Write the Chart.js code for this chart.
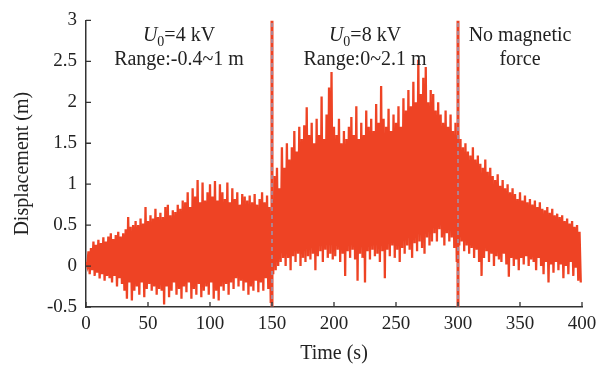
<!DOCTYPE html>
<html>
<head>
<meta charset="utf-8">
<script src="https://cdn.jsdelivr.net/npm/chart.js@4.4.1/dist/chart.umd.min.js"></script>
<style>
  html, body { margin: 0; padding: 0; background: #fff; }
</style>
</head>
<body>
<canvas id="dispChart" width="610" height="370"></canvas>
<script>
// ===== DATA =====

// local maxima, one every 2 s starting at t = 0
const peaks = [
  0.05, 0.18, 0.22, 0.30, 0.26, 0.32, 0.28, 0.35, 0.30, 0.36,
  0.40, 0.33, 0.38, 0.42, 0.36, 0.40, 0.45, 0.60, 0.48, 0.50,
  0.55, 0.50, 0.58, 0.52, 0.72, 0.55, 0.62, 0.58, 0.70, 0.60,
  0.65, 0.60, 0.72, 0.75, 0.62, 0.68, 0.66, 0.75, 0.70, 0.80,
  0.78, 0.90, 0.72, 0.95, 0.85, 1.05, 0.78, 1.02, 0.80, 0.90,
  1.00, 0.85, 1.04, 0.80, 1.00, 0.90, 0.82, 1.02, 0.78, 0.95,
  0.82, 0.90, 0.75, 0.88, 0.85, 0.80, 0.86, 0.78, 0.88, 0.75,
  0.82, 0.90, 0.78, 0.86, 0.72, 0.70, 1.10, 1.20, 0.95, 1.45,
  1.20, 1.50, 1.30, 1.45, 1.65, 1.40, 1.70, 1.55, 1.72, 1.94,
  1.60, 1.75, 1.50, 1.80, 1.60, 2.07, 1.55, 1.85, 2.18, 2.37,
  1.70, 1.60, 1.80, 1.50, 1.65, 1.55, 1.70, 1.82, 1.60, 1.95,
  1.55, 1.75, 1.60, 1.90, 1.70, 1.80, 1.65, 1.98, 1.75, 2.20,
  1.80, 1.70, 1.92, 1.65, 1.85, 1.75, 1.95, 1.70, 2.05, 1.90,
  2.15, 1.95, 2.25, 2.00, 2.52, 2.10, 2.30, 2.43, 2.00, 2.15,
  2.10, 1.90, 2.00, 1.85, 1.75, 1.90, 1.70, 1.85, 1.65, 1.75,
  1.60, 1.55, 1.45, 1.50, 1.40, 1.35, 1.45, 1.30, 1.35, 1.25,
  1.20, 1.30, 1.15, 1.20, 1.10, 1.05, 1.12, 0.98, 1.05, 0.95,
  1.00, 0.90, 0.95, 0.88, 0.82, 0.90, 0.80, 0.86, 0.78, 0.82,
  0.75, 0.80, 0.72, 0.78, 0.70, 0.68, 0.72, 0.65, 0.70, 0.62,
  0.64, 0.60, 0.62, 0.55, 0.58, 0.52, 0.55, 0.48, 0.50, 0.42
];

// local minima, one every 2 s starting at t = 1
const troughs = [
   0.00, -0.10, -0.05, -0.12, -0.08, -0.15, -0.10, -0.18, -0.12, -0.15,
  -0.20, -0.12, -0.25, -0.15, -0.22, -0.30, -0.40, -0.20, -0.42, -0.30,
  -0.25, -0.35, -0.20, -0.38, -0.28, -0.22, -0.30, -0.25, -0.35, -0.28,
  -0.30, -0.47, -0.25, -0.38, -0.30, -0.20, -0.35, -0.28, -0.40, -0.25,
  -0.32, -0.20, -0.40, -0.28, -0.35, -0.22, -0.38, -0.30, -0.25, -0.35,
  -0.20, -0.40, -0.30, -0.42, -0.25, -0.30, -0.22, -0.35, -0.20, -0.28,
  -0.15, -0.25, -0.18, -0.30, -0.20, -0.35, -0.25, -0.30, -0.18, -0.32,
  -0.20, -0.30, -0.15, -0.28, -0.45, -0.10, -0.05,  0.00,  0.05,  0.10,
   0.00,  0.10, -0.05,  0.12,  0.05,  0.15,  0.00,  0.10,  0.05,  0.12,
   0.08,  0.15, -0.05,  0.12,  0.18,  0.05,  0.20,  0.10,  0.15,  0.08,
   0.12,  0.20,  0.05,  0.15, -0.12,  0.18,  0.10,  0.20,  0.08, -0.18,
   0.15,  0.10, -0.20,  0.18,  0.08,  0.20,  0.12,  0.15,  0.05,  0.18,
  -0.15,  0.20,  0.12,  0.25,  0.10,  0.20,  0.05,  0.22,  0.15,  0.25,
   0.20,  0.10,  0.28,  0.18,  0.30,  0.22,  0.15,  0.35,  0.25,  0.30,
   0.40,  0.30,  0.45,  0.35,  0.25,  0.40,  0.30,  0.35,  0.22,  0.05,
   0.25,  0.30,  0.18,  0.25,  0.15,  0.22,  0.10,  0.20,  0.05, -0.12,
   0.10,  0.18,  0.05,  0.15,  0.00,  0.12,  0.08,  0.05,  0.15,  0.02,
  -0.13,  0.10,  0.00,  0.08, -0.05,  0.10,  0.02,  0.12,  0.00,  0.08,
   0.05, -0.05,  0.10,  0.00, -0.10,  0.05, -0.20,  0.02, -0.08,  0.05,
  -0.05,  0.02, -0.15,  0.00, -0.10,  0.05, -0.12, -0.02, -0.18, -0.20
];

const switchTimes = [150, 300];           // s, voltage changes
const stageCentres = [75, 225, 350];      // s, where the stage notes sit
const stageVoltages = ['4', '8', null];   // kV, U0 for each stage
const stageSecondLines = ['Range:-0.4~1 m', 'Range:0~2.1 m', 'force'];
const noForceLine = 'No magnetic';
const xTicks = [0, 50, 100, 150, 200, 250, 300, 350, 400];
const yTicks = [-0.5, 0, 0.5, 1, 1.5, 2, 2.5, 3];

// ===== BUILD SERIES =====
const signal = [];
peaks.forEach((p, i) => {
  signal.push({ x: 2 * i, y: p });
  signal.push({ x: 2 * i + 1, y: troughs[i] });
});

const red = '#ee4324';
const serif = "'Liberation Serif', 'DejaVu Serif', serif";

// marker lines at the switch times (lower order = drawn on top)
const switchSets = [];
switchTimes.forEach(t => {
  const pts = [{ x: t, y: yTicks[0] }, { x: t, y: yTicks[yTicks.length - 1] }];
  switchSets.push({ data: pts, borderColor: red, borderWidth: 3, pointRadius: 0, order: 1 });
  switchSets.push({ data: pts, borderColor: '#86acd6', borderWidth: 1.2, borderDash: [4, 4], pointRadius: 0, order: 0 });
});

// inward tick marks + stage notes
const decor = {
  id: 'decor',
  afterDatasetsDraw(chart) {
    const { ctx, scales: { x, y } } = chart;
    ctx.save();
    ctx.strokeStyle = '#333';
    ctx.lineWidth = 1.3;
    ctx.beginPath();
    xTicks.forEach(v => {
      const px = x.getPixelForValue(v);
      ctx.moveTo(px, y.bottom); ctx.lineTo(px, y.bottom - 5);
    });
    yTicks.forEach(v => {
      const py = y.getPixelForValue(v);
      ctx.moveTo(x.left, py); ctx.lineTo(x.left + 5, py);
    });
    ctx.stroke();

    ctx.fillStyle = '#222';
    ctx.textBaseline = 'alphabetic';
    const y1 = y.getPixelForValue(2.75);
    const y2 = y.getPixelForValue(2.45);
    stageCentres.forEach((t, i) => {
      const cx = x.getPixelForValue(t);
      ctx.textAlign = 'center';
      ctx.font = '20px ' + serif;
      ctx.fillText(stageSecondLines[i], cx, y2);
      if (stageVoltages[i] === null) {
        ctx.fillText(noForceLine, cx, y1);
        return;
      }
      // U (italic) + subscript 0 + "=n kV"
      const fU = 'italic 20px ' + serif, fSub = '14px ' + serif, fRest = '20px ' + serif;
      const rest = '=' + stageVoltages[i] + ' kV';
      ctx.font = fU; const wU = ctx.measureText('U').width;
      ctx.font = fSub; const wS = ctx.measureText('0').width;
      ctx.font = fRest; const wR = ctx.measureText(rest).width;
      let sx = cx - (wU + wS + wR) / 2;
      ctx.textAlign = 'left';
      ctx.font = fU; ctx.fillText('U', sx, y1); sx += wU;
      ctx.font = fSub; ctx.fillText('0', sx, y1 + 5); sx += wS;
      ctx.font = fRest; ctx.fillText(rest, sx, y1);
    });
    ctx.restore();
  }
};

new Chart(document.getElementById('dispChart'), {
  type: 'line',
  data: {
    datasets: [
      { data: signal, borderColor: red, borderWidth: 2.3, pointRadius: 0, tension: 0, order: 2 },
      ...switchSets
    ]
  },
  options: {
    responsive: false,
    animation: false,
    devicePixelRatio: 1,
    layout: { padding: { top: 12, right: 28, left: 0, bottom: 0 } },
    plugins: { legend: { display: false }, tooltip: { enabled: false } },
    scales: {
      x: {
        type: 'linear', min: 0, max: 400,
        afterBuildTicks: s => { s.ticks = xTicks.map(v => ({ value: v })); },
        afterFit: s => { s.height = 63; },
        ticks: { color: '#222', font: { family: serif, size: 19 }, padding: 6, maxRotation: 0 },
        grid: { drawOnChartArea: false, drawTicks: false },
        border: { color: '#333', width: 1.5 },
        title: { display: true, text: 'Time (s)', color: '#222', font: { family: serif, size: 20 }, padding: { top: 5 } }
      },
      y: {
        min: -0.5, max: 3,
        afterBuildTicks: s => { s.ticks = yTicks.map(v => ({ value: v })); },
        afterFit: s => { s.width = 86; },
        ticks: { color: '#222', font: { family: serif, size: 19 }, padding: 9, callback: v => String(v) },
        grid: { drawOnChartArea: false, drawTicks: false },
        border: { color: '#333', width: 1.5 },
        title: { display: true, text: 'Displacement (m)', color: '#222', font: { family: serif, size: 20 }, padding: { top: 11, bottom: 0 } }
      }
    }
  },
  plugins: [decor]
});
</script>
</body>
</html>
